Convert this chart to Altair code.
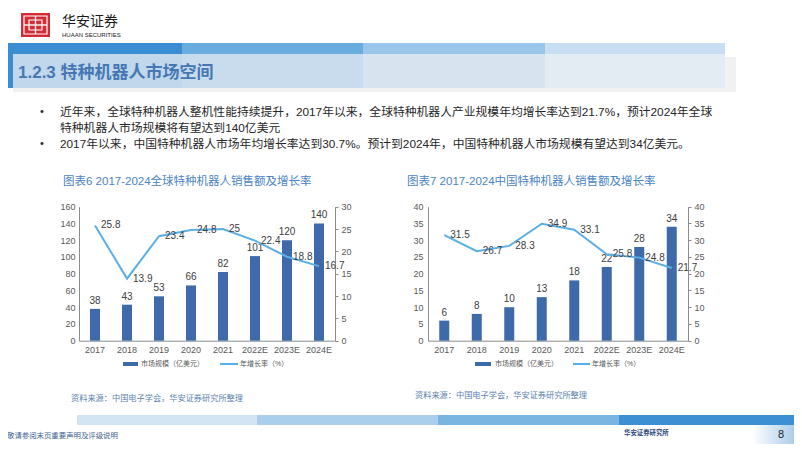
import altair as alt
import pandas as pd

# ---------------- data ----------------
years = ["2017", "2018", "2019", "2020", "2021", "2022E", "2023E", "2024E"]
global_sales = [38, 43, 53, 66, 82, 101, 120, 140]
global_growth = [25.8, 13.9, 23.4, 24.8, 25, 22.4, 18.8, 16.7]
china_sales = [6, 8, 10, 13, 18, 22, 28, 34]
china_growth = [31.5, 26.7, 28.3, 34.9, 33.1, 25.8, 24.8, 21.7]

global_left_ticks = [0, 20, 40, 60, 80, 100, 120, 140, 160]
global_right_ticks = [0, 5, 10, 15, 20, 25, 30]
china_left_ticks = [0, 5, 10, 15, 20, 25, 30, 35, 40]
china_right_ticks = [0, 5, 10, 15, 20, 25, 30, 35, 40]

section_title = "1.2.3 特种机器人市场空间"
bullet1a = "近年来，全球特种机器人整机性能持续提升，2017年以来，全球特种机器人产业规模年均增长率达到21.7%，预计2024年全球"
bullet1b = "特种机器人市场规模将有望达到140亿美元"
bullet2 = "2017年以来，中国特种机器人市场年均增长率达到30.7%。预计到2024年，中国特种机器人市场规模有望达到34亿美元。"
title1 = "图表6 2017-2024全球特种机器人销售额及增长率"
title2 = "图表7 2017-2024中国特种机器人销售额及增长率"
legend_bar = "市场规模（亿美元）"
legend_line = "年增长率（%）"
source = "资料来源：中国电子学会，华安证券研究所整理"
footer_left = "敬请参阅末页重要声明及评级说明"
footer_mid = "华安证券研究所"
page_no = "8"

# ---------------- style ----------------
W, H = 786, 436
OFF = 8
BAR = "#3e6aa9"
LINE = "#5aafe6"
AX = "#8c8c8c"
LAB = "#595959"
TXT = "#404040"
NUMF = "Liberation Sans"
CJK = "Liberation Sans, Noto Sans CJK SC"

ONE = pd.DataFrame({"k": [0]})


def X(v):
    return v - OFF


def Y(v):
    return v - OFF


def rect(x0, y0, x1, y1, color, **kw):
    return alt.Chart(ONE).mark_rect(color=color, **kw).encode(
        x=alt.value(X(x0)), x2=alt.value(X(x1)), y=alt.value(Y(y0)), y2=alt.value(Y(y1))
    )


def outline(x0, y0, x1, y1, color, sw=1.2):
    return alt.Chart(ONE).mark_rect(fillOpacity=0, stroke=color, strokeWidth=sw).encode(
        x=alt.value(X(x0)), x2=alt.value(X(x1)), y=alt.value(Y(y0)), y2=alt.value(Y(y1))
    )


def rule(x0, y0, x1, y1, color, sw=1):
    return alt.Chart(ONE).mark_rule(color=color, strokeWidth=sw).encode(
        x=alt.value(X(x0)), x2=alt.value(X(x1)), y=alt.value(Y(y0)), y2=alt.value(Y(y1))
    )


def text(s, x, y, size, color, align="left", weight="normal", font=CJK):
    return alt.Chart(ONE).mark_text(
        text=s, fontSize=size, color=color, align=align, baseline="middle",
        fontWeight=weight, font=font
    ).encode(x=alt.value(X(x)), y=alt.value(Y(y)))


def panel(sales, growth, lticks, lmax, rticks, rmax, px0, px1, py0, py1, lpad, rpad):
    x0, x1, y0, y1 = X(px0), X(px1), Y(py0), Y(py1)
    df = pd.DataFrame({
        "year": years,
        "sales": sales,
        "growth": growth,
        "sales_lab": [str(v) for v in sales],
        "growth_lab": [str(v) for v in growth],
    })
    base = alt.Chart(df)
    xenc = alt.X(
        "year:N",
        scale=alt.Scale(domain=years, range=[x0, x1], paddingInner=0, paddingOuter=0),
        axis=alt.Axis(
            orient="bottom", offset=y0 - H, title=None, labelAngle=0, ticks=False,
            domainColor=AX, labelColor=LAB, labelFontSize=9, labelFont=NUMF,
            labelPadding=5, grid=False,
        ),
    )
    yl = alt.Y(
        "sales:Q",
        scale=alt.Scale(domain=[0, lmax], range=[y0, y1], nice=False, zero=True),
        axis=alt.Axis(
            orient="left", offset=-x0, values=lticks, ticks=False, title=None,
            domainColor=AX, labelColor=LAB, labelFontSize=9, labelFont=NUMF,
            labelPadding=lpad, grid=False,
        ),
    )
    yr = alt.Y(
        "growth:Q",
        scale=alt.Scale(domain=[0, rmax], range=[y0, y1], nice=False, zero=True),
        axis=alt.Axis(
            orient="right", offset=x1 - W, values=rticks, tickSize=3, tickColor=AX,
            title=None, domainColor=AX, labelColor=LAB, labelFontSize=9,
            labelFont=NUMF, labelPadding=rpad, grid=False,
        ),
    )
    bars = base.mark_bar(size=10, color=BAR).encode(x=xenc, y=yl)
    blab = base.mark_text(
        align="center", baseline="bottom", dy=-3, fontSize=10, color=TXT, font=NUMF
    ).encode(x=xenc, y=yl, text="sales_lab:N")
    line = base.mark_line(color=LINE, strokeWidth=2).encode(x=xenc, y=yr)
    llab = base.mark_text(
        align="left", baseline="middle", dx=6, fontSize=10, color=TXT, font=NUMF
    ).encode(x=xenc, y=yr, text="growth_lab:N")
    return alt.layer(alt.layer(bars, blab), alt.layer(line, llab)).resolve_scale(y="independent")


deco = [
    # header
    rect(13, 57, 736, 92, "#f1f1f1"),
    rect(13, 54, 182, 88, "#c0d7ec"),
    rect(182, 54, 363, 88, "#c9dcee"),
    rect(363, 54, 545, 88, "#d7e3ef"),
    rect(545, 54, 725, 88, "#e3ebf3"),
    rect(0, 43, 182, 54, "#3a8dd0"),
    rect(182, 43, 363, 54, "#68ace0"),
    rect(363, 43, 545, 54, "#99c6e9"),
    rect(545, 43, 725, 54, "#c8def2"),
    rect(0, 43, 13, 88, "#3a8dd0"),
    text(section_title, 18, 73, 17, "#4677b3", weight="bold"),
    # logo
    rect(21, 13, 50, 37, "#d52b34"),
    outline(24, 16, 47, 34, "white"),
    outline(29, 20, 42, 30, "white"),
    rule(35.5, 16, 35.5, 34, "white", 1.4),
    rule(24, 25, 47, 25, "white", 1.4),
    text("华安证券", 62, 22, 14, "#1a1a1a"),
    text("HUAAN SECURITIES", 62, 35, 6, "#222222", font=NUMF),
    # bullets
    text("•", 40, 112, 11, "#262626"),
    text(bullet1a, 60, 112, 11.8, "#262626"),
    text(bullet1b, 60, 128, 11.8, "#262626"),
    text("•", 40, 144, 11, "#262626"),
    text(bullet2, 60, 144, 11.8, "#262626"),
    # chart titles
    text(title1, 63, 182, 11.5, "#4a84c4"),
    text(title2, 407, 182, 11.5, "#4a84c4"),
    # legends
    rect(123, 362, 138, 366, BAR),
    text(legend_bar, 141, 364, 7, LAB),
    rule(220, 364, 238, 364, LINE, 2),
    text(legend_line, 240, 364, 7, LAB),
    rect(475, 362, 491, 366, BAR),
    text(legend_bar, 495, 364, 7, LAB),
    rule(573, 364, 590, 364, LINE, 2),
    text(legend_line, 592, 364, 7, LAB),
    # sources
    text(source, 71, 399, 8.2, "#5b7fb1"),
    text(source, 415, 396, 8.2, "#5b7fb1"),
    # footer
    rect(77, 415, 257, 425, "#d3e5f3"),
    rect(257, 415, 438, 425, "#a9cfec"),
    rect(438, 415, 619, 425, "#7ab4e0"),
    rect(619, 415, 802, 425, "#3b8fd2"),
    alt.Chart(ONE).mark_rect(
        color=alt.LinearGradient(
            gradient="linear",
            stops=[alt.GradientStop(color="#ffffff", offset=0),
                   alt.GradientStop(color="#9cc4e6", offset=1)],
            x1=0, x2=1, y1=0, y2=0,
        )
    ).encode(x=alt.value(X(752)), x2=alt.value(X(802)), y=alt.value(Y(425)), y2=alt.value(Y(447))),
    text(footer_left, 7, 436, 7.4, "#3f5f8f"),
    text(footer_mid, 624, 433, 6.4, "#2a4a7a", weight="bold"),
    text(page_no, 778, 435, 11, "#222222", font=NUMF),
]

p1 = panel(global_sales, global_growth, global_left_ticks, 160, global_right_ticks, 30,
           79, 335, 340.7, 206.7, 4, 3)
p2 = panel(china_sales, china_growth, china_left_ticks, 40, china_right_ticks, 40,
           428, 688, 340.7, 206.7, 5, 3)

chart = (
    alt.layer(*deco, p1, p2)
    .resolve_scale(x="independent", y="independent")
    .properties(width=W, height=H, autosize="none", padding=0, background="white")
    .configure_view(strokeWidth=0)
)

chart.save("out.html", embed_options={"renderer": "svg", "actions": False})
